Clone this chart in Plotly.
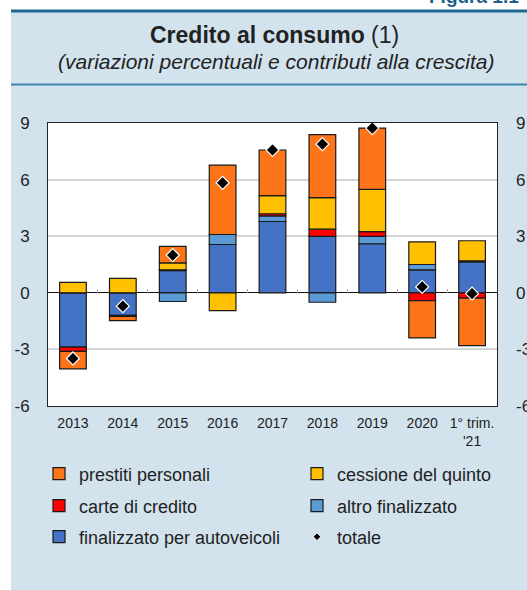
import plotly.graph_objects as go

# === DATA ===
categories = ["2013", "2014", "2015", "2016", "2017", "2018", "2019", "2020", "1° trim.<br>'21"]

autoveicoli = [-2.88, -1.20, 1.18, 2.56, 3.78, 2.99, 2.60, 1.22, 1.64]
altro_fin = [0.00, 0.00, -0.46, 0.53, 0.30, -0.50, 0.39, 0.28, 0.05]
carte = [-0.22, -0.05, 0.04, 0.00, 0.11, 0.38, 0.25, -0.41, -0.28]
cessione = [0.55, 0.76, 0.37, -0.94, 0.96, 1.67, 2.24, 1.20, 1.07]
prestiti = [-0.93, -0.22, 0.87, 3.68, 2.42, 3.34, 3.25, -1.98, -2.52]
totale = [-3.48, -0.71, 2.00, 5.83, 7.57, 7.88, 8.73, 0.31, -0.04]

y_ticks = [-6, -3, 0, 3, 6, 9]
y_ticktext = ["-6", "-3", "0", "3", "6", "9"]

# === GEOMETRY (pixels -> paper) ===
W, H = 527, 590
ML, MR, MT, MB = 48, 30, 123, 184
PW, PH = W - ML - MR, H - MT - MB


def px_x(x):
    return (x - ML) / PW


def px_y(y):
    return 1 - (y - MT) / PH


FONT = "Liberation Sans, Arial, sans-serif"
BG = "#d2e3ed"

# legend slots: (legend id, x of item, y of row centre)
COL1, COL2 = 39, 297
slots = {
    "prestiti personali": ("legend", COL1, 474),
    "cessione del quinto": ("legend2", COL2, 474),
    "carte di credito": ("legend3", COL1, 506),
    "altro finalizzato": ("legend4", COL2, 506),
    "finalizzato per autoveicoli": ("legend5", COL1, 537),
    "totale": ("legend6", COL2, 537),
}

fig = go.Figure()

# stacked bars, bottom to top
series = [
    ("finalizzato per autoveicoli", autoveicoli, "#4472c4"),
    ("altro finalizzato", altro_fin, "#5b9bd5"),
    ("carte di credito", carte, "#ff0000"),
    ("cessione del quinto", cessione, "#ffc000"),
    ("prestiti personali", prestiti, "#fd7419"),
]
for name, vals, color in series:
    fig.add_trace(go.Bar(
        x=categories, y=vals, name=name,
        marker=dict(color=color, line=dict(color="#1a1a1a", width=1.2)),
        legend=slots[name][0],
    ))

fig.add_trace(go.Scatter(
    x=categories, y=totale, name="totale", mode="markers",
    marker=dict(symbol="diamond", size=10, color="black",
                line=dict(color="white", width=1.2)),
    showlegend=False,
))
# smaller diamond for the legend entry
fig.add_trace(go.Scatter(
    x=[None], y=[None], name="totale", mode="markers",
    marker=dict(symbol="diamond", size=6, color="black",
                line=dict(color="white", width=1)),
    legend=slots["totale"][0],
))
# empty trace so the right-hand axis and the boundary ticks get drawn
fig.add_trace(go.Scatter(
    x=[None], y=[None], xaxis="x2", yaxis="y2", mode="markers",
    showlegend=False, hoverinfo="skip",
))

# === LAYOUT ===
shapes = [
    dict(type="rect", xref="paper", yref="paper", x0=px_x(0), x1=px_x(11),
         y0=px_y(H), y1=px_y(0), fillcolor="white", line=dict(width=0)),
    dict(type="rect", xref="paper", yref="paper", x0=px_x(0), x1=px_x(W),
         y0=px_y(10), y1=px_y(0), fillcolor="white", line=dict(width=0)),
    dict(type="line", xref="paper", yref="paper", x0=px_x(11), x1=px_x(W),
         y0=px_y(11), y1=px_y(11), line=dict(color="#1d6890", width=3)),
    dict(type="line", xref="paper", yref="paper", x0=px_x(11), x1=px_x(W),
         y0=px_y(84.5), y1=px_y(84.5), line=dict(color="#3f86ad", width=2)),
]

annotations = [
    dict(text="<b>Credito al consumo</b> (1)", x=px_x(274), y=px_y(35),
         xref="paper", yref="paper", showarrow=False, xanchor="center", yanchor="middle",
         font=dict(size=23, color="#222222", family=FONT)),
    dict(text="<i>(variazioni percentuali e contributi alla crescita)</i>", x=px_x(276), y=px_y(61),
         xref="paper", yref="paper", showarrow=False, xanchor="center", yanchor="middle",
         font=dict(size=21, color="#222222", family=FONT)),
    dict(text="<b>Figura 1.1</b>", x=px_x(427), y=px_y(9),
         xref="paper", yref="paper", showarrow=False, xanchor="left", yanchor="bottom",
         font=dict(size=19, color="#1b5f8c", family=FONT)),
]

legends = {}
for leg_id, lx, ly in slots.values():
    legends[leg_id] = dict(
        orientation="v", xanchor="left", yanchor="middle",
        x=px_x(lx), y=px_y(ly),
        bgcolor="rgba(0,0,0,0)", font=dict(size=18, color="#222222", family=FONT),
    )

fig.update_layout(
    width=W, height=H,
    margin=dict(l=ML, r=MR, t=MT, b=MB, autoexpand=False),
    paper_bgcolor=BG, plot_bgcolor="white",
    barmode="relative", bargap=0.465,
    font=dict(family=FONT, color="#222222"),
    shapes=shapes, annotations=annotations,
    xaxis=dict(
        type="category", range=[-0.5, 8.5],
        showline=True, linecolor="#222222", linewidth=1, mirror=True,
        ticks="", tickfont=dict(size=14), ticklabelstandoff=4,
    ),
    xaxis2=dict(
        overlaying="x", anchor="free", position=0.4, range=[-0.5, 8.5],
        tickvals=[0.5, 1.5, 2.5, 3.5, 4.5, 5.5, 6.5, 7.5],
        ticks="inside", ticklen=4, tickcolor="#aaaaaa", tickwidth=1,
        showticklabels=False, showgrid=False, showline=False, zeroline=False,
    ),
    yaxis=dict(
        range=[-6, 9], tickvals=y_ticks, ticktext=y_ticktext,
        showgrid=True, gridcolor="#d4d4d4", gridwidth=1.5,
        zeroline=True, zerolinecolor="#111111", zerolinewidth=1,
        showline=True, linecolor="#222222", linewidth=1, mirror=True,
        ticks="", tickfont=dict(size=17), ticklabelstandoff=14,
    ),
    yaxis2=dict(
        overlaying="y", side="right", range=[-6, 9], tickvals=y_ticks, ticktext=y_ticktext,
        showgrid=False, zeroline=False, showline=False,
        ticks="", tickfont=dict(size=17), ticklabelstandoff=18,
    ),
    **legends,
)

# drop the page's default body margin so the figure sits at the window's corner
fig.write_html(
    "out.html",
    config={"displayModeBar": False},
    post_script="document.body.style.margin='0';",
)
